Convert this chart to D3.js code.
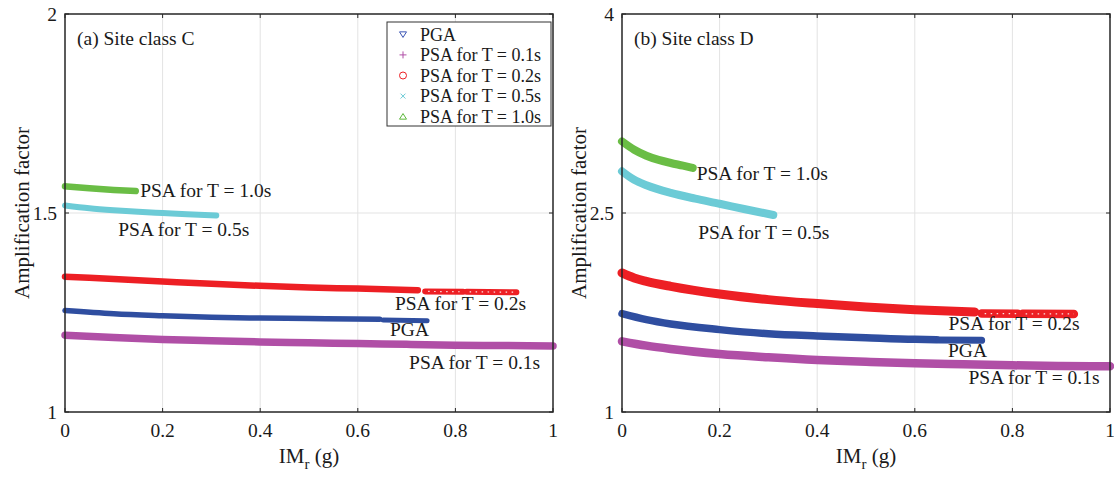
<!DOCTYPE html>
<html>
<head>
<meta charset="utf-8">
<script src="https://cdn.jsdelivr.net/npm/d3@7"></script>
<style>
  html, body { margin: 0; padding: 0; background: #fff; }
  svg { display: block; }
  text { font-family: "Liberation Serif", "Times New Roman", "DejaVu Serif", serif; fill: #1a1a1a; }
</style>
</head>
<body>
<svg id="chart" width="1114" height="477"></svg>
<script>
// ---- Data: amplification factor vs. IMr (g) ----
const xTicks = [0, 0.2, 0.4, 0.6, 0.8, 1];
const yTicksC = [1, 1.5, 2];
const yTicksD = [1, 2.5, 4];

// Site class C
const pgaC      = [[0,1.255],[0.1,1.247],[0.2,1.242],[0.3,1.238],[0.4,1.236],[0.5,1.235],[0.645,1.233]];
const pgaTailC  = [[0.652,1.231],[0.742,1.229]];
const psa01C    = [[0,1.193],[0.1,1.187],[0.2,1.182],[0.3,1.179],[0.4,1.176],[0.5,1.174],[0.6,1.172],[0.7,1.170],[0.8,1.168],[0.9,1.167],[1.0,1.166]];
const psa02C    = [[0,1.340],[0.1,1.334],[0.2,1.328],[0.3,1.322],[0.4,1.317],[0.5,1.313],[0.6,1.310],[0.723,1.306]];
const psa02TailC1 = [[0.738,1.303],[0.816,1.302]];
const psa02TailC2 = [[0.823,1.302],[0.925,1.301]];
const psa05C    = [[0,1.519],[0.05,1.512],[0.1,1.507],[0.15,1.503],[0.2,1.500],[0.25,1.497],[0.31,1.494]];
const psa10C    = [[0,1.567],[0.05,1.562],[0.1,1.558],[0.145,1.555]];

// Site class D
const pgaD      = [[0,1.741],[0.05,1.696],[0.1,1.663],[0.2,1.621],[0.3,1.590],[0.4,1.573],[0.5,1.560],[0.6,1.548],[0.645,1.545]];
const pgaTailD  = [[0.650,1.542],[0.737,1.540]];
const psa01D    = [[0,1.533],[0.05,1.500],[0.1,1.475],[0.2,1.437],[0.3,1.412],[0.4,1.392],[0.5,1.379],[0.6,1.367],[0.7,1.359],[0.8,1.352],[0.9,1.347],[1.0,1.345]];
const psa02D    = [[0,2.048],[0.025,2.010],[0.05,1.985],[0.1,1.947],[0.2,1.889],[0.3,1.847],[0.4,1.817],[0.5,1.791],[0.6,1.771],[0.723,1.754]];
const psa02TailD1 = [[0.737,1.742],[0.811,1.741]];
const psa02TailD2 = [[0.821,1.740],[0.926,1.739]];
const psa05D    = [[0,2.814],[0.025,2.750],[0.05,2.709],[0.1,2.651],[0.15,2.608],[0.2,2.570],[0.25,2.530],[0.31,2.485]];
const psa10D    = [[0,3.040],[0.025,2.977],[0.05,2.932],[0.075,2.900],[0.1,2.877],[0.125,2.857],[0.145,2.840]];

const seriesNames = ["PGA", "PSA for T = 0.1s", "PSA for T = 0.2s", "PSA for T = 0.5s", "PSA for T = 1.0s"];
const seriesColors = ["#2f4ea0", "#b04fa6", "#ed1f24", "#6ccbd6", "#6abd45"];
const legendColors = ["#3b55b5", "#b04fa6", "#ed1f24", "#6ccbd6", "#5cb83a"];
const legendSymbols = ["triDown", "plus", "circle", "cross", "triUp"];

// ---- Layout ----
const svg = d3.select("#chart");
svg.append("rect").attr("width", 1114).attr("height", 477).attr("fill", "#fff");

const panels = [
  {
    left: 65, right: 553, top: 14, bottom: 412,
    yDomain: [1, 2], yTicks: yTicksC, title: "(a) Site class C", legend: true,
    widths: [5.5, 7.5, 6.5, 6, 6.5],
    bands: [pgaC, psa01C, psa02C, psa05C, psa10C],
    tails: [[pgaTailC, 0], [psa02TailC1, 2], [psa02TailC2, 2]],
    notes: [
      { text: "PSA for T = 1.0s", x: 0.154, y: 1.540 },
      { text: "PSA for T = 0.5s", x: 0.109, y: 1.442 },
      { text: "PSA for T = 0.2s", x: 0.676, y: 1.256 },
      { text: "PGA",              x: 0.666, y: 1.191 },
      { text: "PSA for T = 0.1s", x: 0.705, y: 1.107 }
    ]
  },
  {
    left: 622, right: 1110, top: 14, bottom: 412,
    yDomain: [1, 4], yTicks: yTicksD, title: "(b) Site class D", legend: false,
    widths: [7.5, 8.5, 9, 8, 8],
    bands: [pgaD, psa01D, psa02D, psa05D, psa10D],
    tails: [[pgaTailD, 0], [psa02TailD1, 2], [psa02TailD2, 2]],
    notes: [
      { text: "PSA for T = 1.0s", x: 0.153, y: 2.749 },
      { text: "PSA for T = 0.5s", x: 0.156, y: 2.304 },
      { text: "PSA for T = 0.2s", x: 0.669, y: 1.618 },
      { text: "PGA",              x: 0.668, y: 1.412 },
      { text: "PSA for T = 0.1s", x: 0.710, y: 1.211 }
    ]
  }
];

function symbolPath(kind, s) {
  const h = s / 2;
  switch (kind) {
    case "triDown": return `M${-h},${-h * 0.7}L${h},${-h * 0.7}L0,${h * 0.9}Z`;
    case "triUp":   return `M${-h},${h * 0.7}L${h},${h * 0.7}L0,${-h * 0.9}Z`;
    case "plus":    return `M${-h},0L${h},0M0,${-h}L0,${h}`;
    case "cross":   return `M${-h * 0.7},${-h * 0.7}L${h * 0.7},${h * 0.7}M${-h * 0.7},${h * 0.7}L${h * 0.7},${-h * 0.7}`;
    case "circle":  return d3.symbol(d3.symbolCircle, Math.PI * h * h)();
  }
}

panels.forEach(p => {
  const x = d3.scaleLinear().domain([0, 1]).range([p.left, p.right]);
  const y = d3.scaleLinear().domain(p.yDomain).range([p.bottom, p.top]);
  const g = svg.append("g");

  // grid lines
  g.append("g").selectAll("line").data(xTicks.slice(1, -1)).join("line")
    .attr("x1", d => x(d)).attr("x2", d => x(d))
    .attr("y1", p.top).attr("y2", p.bottom)
    .attr("stroke", "#e3e3e3").attr("stroke-width", 1);
  g.append("g").selectAll("line").data(p.yTicks.slice(1, -1)).join("line")
    .attr("x1", p.left).attr("x2", p.right)
    .attr("y1", d => y(d)).attr("y2", d => y(d))
    .attr("stroke", "#e3e3e3").attr("stroke-width", 1);

  // bands of markers, drawn as thick curves
  const line = d3.line().x(d => x(d[0])).y(d => y(d[1])).curve(d3.curveMonotoneX);
  const plot = g.append("g");
  p.bands.forEach((band, i) => {
    plot.append("path").attr("d", line(band))
      .attr("fill", "none").attr("stroke", seriesColors[i])
      .attr("stroke-width", p.widths[i])
      .attr("stroke-linecap", "round").attr("stroke-linejoin", "round");
  });
  p.tails.forEach(([tail, i]) => {
    plot.append("path").attr("d", line(tail))
      .attr("fill", "none").attr("stroke", seriesColors[i])
      .attr("stroke-width", p.widths[i] - 0.5).attr("stroke-linecap", "round");
    if (i === 2) {
      plot.append("path").attr("d", line(tail))
        .attr("fill", "none").attr("stroke", "#fbe3e3")
        .attr("stroke-width", 1.2).attr("stroke-dasharray", "1.5 4.5")
        .attr("stroke-dashoffset", -3);
    }
  });

  // axes frame with inward ticks
  const tickLen = 4;
  const axisG = g.append("g").attr("stroke", "#262626");
  xTicks.forEach(t => {
    axisG.append("line").attr("x1", x(t)).attr("x2", x(t)).attr("y1", p.bottom).attr("y2", p.bottom - tickLen);
    axisG.append("line").attr("x1", x(t)).attr("x2", x(t)).attr("y1", p.top).attr("y2", p.top + tickLen);
  });
  p.yTicks.forEach(t => {
    axisG.append("line").attr("x1", p.left).attr("x2", p.left + tickLen).attr("y1", y(t)).attr("y2", y(t));
    axisG.append("line").attr("x1", p.right).attr("x2", p.right - tickLen).attr("y1", y(t)).attr("y2", y(t));
  });
  g.append("rect").attr("x", p.left).attr("y", p.top)
    .attr("width", p.right - p.left).attr("height", p.bottom - p.top)
    .attr("fill", "none").attr("stroke", "#262626").attr("stroke-width", 1.5);

  // tick labels
  g.append("g").selectAll("text").data(xTicks).join("text")
    .attr("x", d => x(d)).attr("y", p.bottom + 25)
    .attr("text-anchor", "middle").attr("font-size", 19.5)
    .text(d => d3.format("~g")(d));
  g.append("g").selectAll("text").data(p.yTicks).join("text")
    .attr("x", p.left - 8).attr("y", d => y(d)).attr("dy", "0.35em")
    .attr("text-anchor", "end").attr("font-size", 19.5)
    .text(d => d3.format("~g")(d));

  // axis titles
  const xl = g.append("text").attr("x", (p.left + p.right) / 2).attr("y", p.bottom + 51)
    .attr("text-anchor", "middle").attr("font-size", 21);
  xl.append("tspan").text("IM");
  xl.append("tspan").attr("font-size", 15).attr("dy", 6).text("r");
  xl.append("tspan").attr("dy", -6).text(" (g)");

  g.append("text")
    .attr("transform", `translate(${p.left - 36},${(p.top + p.bottom) / 2}) rotate(-90)`)
    .attr("text-anchor", "middle").attr("font-size", 21)
    .text("Amplification factor");

  // panel title
  g.append("text").attr("x", p.left + 12).attr("y", p.top + 31)
    .attr("font-size", 19.5).text(p.title);

  // curve annotations
  g.append("g").selectAll("text").data(p.notes).join("text")
    .attr("x", d => x(d.x)).attr("y", d => y(d.y))
    .attr("font-size", 19.5).text(d => d.text);

  // legend
  if (p.legend) {
    const lx = 387, ly = 22, lw = 164, lh = 104;
    const lg = g.append("g");
    lg.append("rect").attr("x", lx).attr("y", ly).attr("width", lw).attr("height", lh)
      .attr("fill", "#fff").attr("stroke", "#333").attr("stroke-width", 1);
    seriesNames.forEach((name, i) => {
      const cy = ly + 12.3 + i * 20.6;
      lg.append("path").attr("transform", `translate(${lx + 16},${cy})`)
        .attr("d", symbolPath(legendSymbols[i], 7))
        .attr("fill", "none").attr("stroke", legendColors[i]).attr("stroke-width", 1);
      lg.append("text").attr("x", lx + 33).attr("y", cy).attr("dy", "0.35em")
        .attr("font-size", 18).text(name);
    });
  }
});
</script>
</body>
</html>
